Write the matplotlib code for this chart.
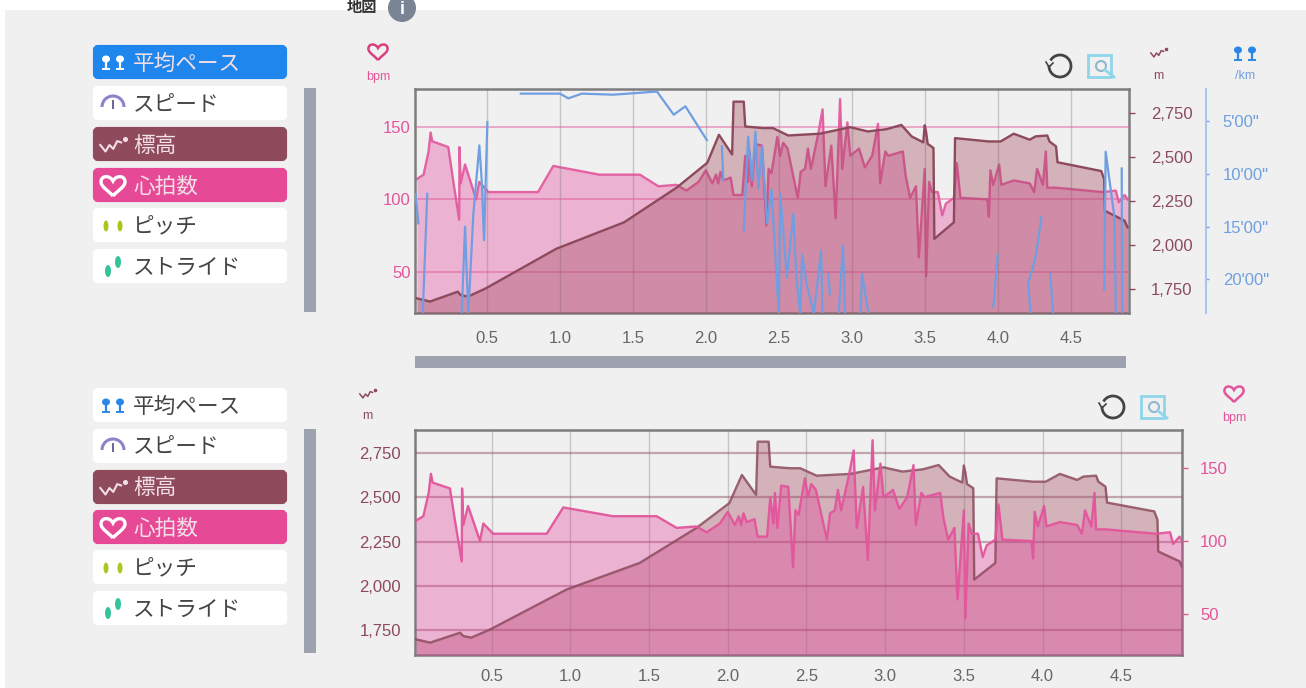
import numpy as np
import matplotlib
matplotlib.use("Agg")
import matplotlib.pyplot as plt
import matplotlib.patches as patches
from matplotlib.path import Path

plt.rcParams['font.family'] = ['Liberation Sans', 'Noto Sans CJK JP', 'DejaVu Sans']

W, H = 1306, 688

# elevation
elev_km = [0.02, 0.11, 0.30, 0.32, 0.37, 0.49, 0.976, 1.44, 1.80, 2.01, 2.09, 2.18, 2.19, 2.26, 2.27, 2.395,
           2.46, 2.565, 2.78, 2.99, 3.11, 3.24, 3.34, 3.41, 3.49, 3.50, 3.51, 3.52, 3.56, 3.566, 3.70, 3.708,
           3.94, 4.02, 4.11, 4.22, 4.26, 4.34, 4.355, 4.40, 4.41, 4.71, 4.73, 4.735, 4.87, 4.89]
elev_m = [1697, 1679, 1735, 1716, 1707, 1753, 1979, 2129, 2326, 2467, 2626, 2514, 2814, 2814, 2673, 2664,
          2664, 2622, 2632, 2669, 2645, 2658, 2682, 2617, 2583, 2680, 2640, 2575, 2551, 2035, 2129, 2607,
          2588, 2588, 2632, 2598, 2617, 2622, 2588, 2560, 2470, 2420, 2373, 2194, 2138, 2100]

# heart rate
hr_km = [0.02, 0.066, 0.10, 0.114, 0.125, 0.235, 0.267, 0.31, 0.312, 0.32, 0.35, 0.426, 0.447, 0.51, 0.85, 0.955,
         1.27, 1.548, 1.675, 1.80, 1.866, 1.95, 2.0, 2.045, 2.07, 2.085, 2.1, 2.12, 2.17, 2.19, 2.25, 2.27,
         2.29, 2.30, 2.315, 2.34, 2.385, 2.415, 2.43, 2.45, 2.49, 2.51, 2.53, 2.56, 2.63, 2.65, 2.68, 2.70,
         2.72, 2.77, 2.80, 2.82, 2.86, 2.89, 2.92, 2.935, 2.97, 2.99, 3.05, 3.09, 3.14, 3.18, 3.195, 3.23,
         3.25, 3.35, 3.37, 3.40, 3.44, 3.46, 3.50, 3.51, 3.53, 3.55, 3.56, 3.59, 3.62, 3.645, 3.70, 3.72,
         3.745, 3.93, 3.94, 3.95, 3.97, 4.01, 4.025, 4.11, 4.22, 4.25, 4.27, 4.31, 4.33, 4.34, 4.40, 4.72,
         4.81, 4.83, 4.87, 4.89]
hr_bpm = [114, 117, 133, 146, 140, 136, 114, 86, 136, 111, 124, 100, 112, 105, 105, 123,
          117, 117, 109, 110, 106, 112, 120, 111, 117, 111, 119, 113, 115, 103, 103, 130,
          112, 133, 109, 138, 137, 82, 121, 118, 143, 130, 139, 135, 101, 119, 121, 135,
          121, 145, 162, 109, 137, 87, 169, 121, 153, 130, 135, 122, 130, 152, 111, 133,
          130, 133, 116, 101, 109, 60, 121, 47, 112, 105, 105, 105, 89, 97, 101, 125,
          101, 100, 88, 120, 110, 124, 110, 113, 111, 105, 121, 110, 133, 108, 108, 105,
          106, 98, 103, 100]

# average pace in minutes per km, nan where the line breaks
pace_km = [0.011, 0.03, np.nan, 0.06, 0.091, np.nan, 0.327, 0.35, 0.372, 0.407, 0.448, 0.464, 0.48, 0.503, np.nan,
           0.732, 1.0, 1.058, 1.15, 1.367, 1.665, 1.78, 1.86, 2.007, np.nan, 2.11, 2.12, np.nan,
           2.26, 2.29, 2.316, 2.34, 2.36, 2.385, 2.42, 2.45, 2.5, 2.51, 2.53, 2.555, 2.6, 2.62, 2.647, 2.66, 2.69,
           2.74, 2.79, 2.80, np.nan, 2.84, 2.85, np.nan, 2.91, 2.94, 2.955, np.nan, 3.06, 3.07, 3.116, np.nan,
           3.97, 4.0, np.nan, 4.225, 4.21, 4.26, 4.3, np.nan, 4.36, 4.38, np.nan,
           4.73, 4.74, 4.80, 4.81, np.nan, 4.85, 4.853]
pace_min = [11.9, 14.7, np.nan, 23.3, 11.9, np.nan, 23.3, 15, 23.3, 13.8, 7.3, 10.6, 16.3, 5.1, np.nan,
            2.4, 2.4, 2.85, 2.4, 2.5, 2.2, 4.4, 3.6, 6.8, np.nan, 7.4, 10.6, np.nan,
            15.35, 6.5, 10.6, 6, 11.4, 7.4, 14.7, 11.5, 23.3, 11.9, 15.35, 19.8, 13.8, 19.8, 23.3, 17.6, 20.4,
            23.3, 17.3, 23.3, np.nan, 19.5, 21.4, np.nan, 23.3, 16.8, 23.3, np.nan, 23.3, 19.5, 23.3, np.nan,
            22.6, 17.7, np.nan, 23.3, 20.4, 17.9, 14.1, np.nan, 19.5, 23.3, np.nan,
            21.0, 7.9, 14.1, 23.3, np.nan, 9.5, 23.3]

km_ticks = [0.5, 1.0, 1.5, 2.0, 2.5, 3.0, 3.5, 4.0, 4.5]
hr_ticks = [50, 100, 150]
elev_ticks = [1750, 2000, 2250, 2500, 2750]
pace_ticks = [5, 10, 15, 20]
pace_labels = ["5'00\"", "10'00\"", "15'00\"", "20'00\""]
menu_labels = ["平均ペース", "スピード", "標高", "心拍数", "ピッチ", "ストライド"]

BG = "#f0f0f0"
PINK = "#e2559b"
BROWN = "#8c4a5c"
BLUE = "#6f9fe0"
FRAME = "#7d7d7d"
HR_FILL = "#e53b99"
ELEV_FILL = "#a0465c"

fig = plt.figure(figsize=(W / 100, H / 100), dpi=100, facecolor="white")

# page layer in pixel coordinates
page = fig.add_axes([0, 0, 1, 1], zorder=0)
page.set_xlim(0, W)
page.set_ylim(H, 0)
page.axis("off")
page.add_patch(patches.Rectangle((5, 10), W - 5, H - 10, color=BG, lw=0))


def chart_axes(left, top, right, bottom):
    return fig.add_axes([left / W, 1 - bottom / H, (right - left) / W, (bottom - top) / H], zorder=1)


def heart(x, y, s, c, lw=2.2):
    verts = [(0, 1), (-0.4, 0.5), (-1.2, 0.1), (-1.2, -0.4), (-1.2, -1.1), (-0.3, -1.1), (0, -0.5),
             (0.3, -1.1), (1.2, -1.1), (1.2, -0.4), (1.2, 0.1), (0.4, 0.5), (0, 1)]
    pts = [(x + s * a, y + s * b) for a, b in verts]
    codes = [Path.MOVETO] + [Path.CURVE4] * 12
    page.add_patch(patches.PathPatch(Path(pts, codes), fc="none", ec=c, lw=lw))


def feet(x, y, c, kind="pace"):
    for dx in (0, 14):
        if kind == "pace":
            page.add_patch(patches.Ellipse((x + dx, y - 3), 8, 7, color=c, lw=0))
            page.plot([x + dx, x + dx], [y - 3, y + 6], color=c, lw=1.6)
            page.plot([x + dx - 3, x + dx + 3], [y + 7, y + 7], color=c, lw=1.4)
        else:
            page.add_patch(patches.Ellipse((x + dx, y), 5, 11, color=c, lw=0))


def zigzag(x, y, c, s=1.0, lw=1.3):
    page.plot(x + s * np.array([-9, -5, -2, 1, 4, 7]), y + s * np.array([0, 5, 0, 3, -3, -2]), color=c, lw=lw)
    page.plot([x + s * 10], [y - s * 5], "o", color=c, ms=2 * s)


def menu(top_ys, active):
    for i, (label, y0) in enumerate(zip(menu_labels, top_ys)):
        fc = active.get(i, "white")
        page.add_patch(patches.FancyBboxPatch((95, y0 + 2), 190, 30, boxstyle="round,pad=0,rounding_size=3",
                                              fc=fc, ec=fc, lw=3))
        tc = "#f3dfe6" if i in active else "#444444"
        yc = y0 + 17
        page.text(133, yc + 2, label, fontsize=15.6, color=tc, va="center", ha="left")
        if i == 0:
            feet(106, yc, "white" if i in active else "#2d86e6")
        elif i == 1:
            page.add_patch(patches.Arc((113, yc + 4), 22, 22, theta1=180, theta2=360, color="#8d83c8", lw=2.2))
            page.plot([113, 113], [yc + 5, yc - 2], color="#666699", lw=1.4)
        elif i == 2:
            zigzag(112, yc + 1, "#f3dfe6" if i in active else BROWN, 1.3, 1.5)
        elif i == 3:
            heart(113, yc + 1, 10, "white", 2.4)
        elif i == 4:
            feet(106, yc + 1, "#a8c820", "pitch")
        elif i == 5:
            page.add_patch(patches.Ellipse((108, yc + 5), 6, 12, color="#35c49a", lw=0))
            page.add_patch(patches.Ellipse((118, yc - 4), 6, 12, color="#35c49a", lw=0))


def tools(x, y):
    page.add_patch(patches.Arc((x, y), 22, 22, theta1=-150, theta2=185, color="#444444", lw=2))
    page.plot([x - 14, x - 11, x - 7], [y - 4, y + 1, y - 3], color="#444444", lw=1.2)
    page.add_patch(patches.Rectangle((x + 28, y - 11), 23, 22, fc="none", ec="#8fd6ea", lw=2))
    page.add_patch(patches.Circle((x + 41, y), 5, fc="none", ec="#8fb8d0", lw=1.5))
    page.plot([x + 45, x + 54], [y + 4, y + 11], color="#8fd6ea", lw=2)


def style(ax, c, side):
    ax.tick_params(axis="y", colors=c, labelsize=12, length=4, width=1, pad=12)
    ax.yaxis.set_ticks_position(side)
    ax.yaxis.set_label_position(side)


def draw_x(ax, xlim, pad):
    ax.set_xlim(*xlim)
    ax.set_xticks(km_ticks)
    ax.set_xticklabels(["%.1f" % k for k in km_ticks])
    ax.tick_params(axis="x", colors="#666666", labelsize=12, length=0, pad=pad)
    ax.grid(axis="x", color="#777777", alpha=0.35, lw=1)
    for s in ax.spines.values():
        s.set_color(FRAME)
        s.set_linewidth(1.8)


# upper chart: heart rate on the left, elevation and pace on the right
ax1 = chart_axes(415, 89, 1129, 313)
ax1.set_facecolor(BG)
ax1.set_axisbelow(False)
draw_x(ax1, (0.007, 4.90), 13)
ax1.set_ylim(21.7, 176)
ax1.set_yticks(hr_ticks)
style(ax1, PINK, "left")
ax1.tick_params(axis="y", length=0, pad=3)
ax1.fill_between(hr_km, hr_bpm, 0, color=HR_FILL, alpha=0.34, lw=0)
ax1.plot(hr_km, hr_bpm, color=PINK, lw=1.7, alpha=0.9)
ax1.grid(axis="y", color=PINK, alpha=0.55, lw=1.2)

ax1e = ax1.twinx()
ax1e.set_ylim(1614, 2886)
ax1e.set_yticks(elev_ticks)
ax1e.set_yticklabels(["{:,}".format(v) for v in elev_ticks])
style(ax1e, BROWN, "right")
ax1e.fill_between(elev_km, elev_m, 0, color=ELEV_FILL, alpha=0.36, lw=0)
ax1e.plot(elev_km, elev_m, color=BROWN, lw=1.7)
ax1e.spines[:].set_visible(False)

ax1p = ax1.twinx()
ax1p.set_ylim(23.2, 1.96)
ax1p.set_yticks(pace_ticks)
ax1p.set_yticklabels(pace_labels)
ax1p.plot(pace_km, pace_min, color=BLUE, lw=1.6)
ax1p.spines[:].set_visible(False)
ax1p.spines["right"].set_visible(True)
ax1p.spines["right"].set_position(("outward", 77 * 0.72))
ax1p.spines["right"].set_color("#a9c6ef")
ax1p.spines["right"].set_linewidth(1.5)
style(ax1p, BLUE, "right")
ax1p.tick_params(axis="y", length=2, pad=10)

# lower chart: elevation on the left, heart rate on the right
ax2 = chart_axes(415, 430, 1182, 655)
ax2.set_facecolor(BG)
ax2.set_axisbelow(False)
draw_x(ax2, (0.013, 4.886), 10)
ax2.set_ylim(1609, 2880)
ax2.set_yticks(elev_ticks)
ax2.set_yticklabels(["{:,}".format(v) for v in elev_ticks])
style(ax2, BROWN, "left")
ax2.tick_params(axis="y", length=0, pad=10)
ax2.fill_between(elev_km, elev_m, 0, color=ELEV_FILL, alpha=0.36, lw=0)
ax2.grid(axis="y", color=BROWN, alpha=0.45, lw=1.6)

ax2h = ax2.twinx()
ax2h.set_ylim(22, 176)
ax2h.set_yticks(hr_ticks)
style(ax2h, PINK, "right")
ax2h.tick_params(axis="y", pad=9)
ax2h.fill_between(hr_km, hr_bpm, 0, color=HR_FILL, alpha=0.34, lw=0)
ax2h.plot(elev_km, elev_m, color=BROWN, lw=1.7, alpha=0.85, transform=ax2.transData)
ax2h.plot(hr_km, hr_bpm, color=PINK, lw=1.7, alpha=0.95)
ax2h.set_ylim(22, 176)
ax2h.spines[:].set_visible(False)

# page furniture
menu([45, 86, 127, 168, 208, 249], {0: "#1f86ee", 2: "#8f4a5c", 3: "#e64a97"})
menu([388, 429, 470, 510, 550, 591], {2: "#8f4a5c", 3: "#e64a97"})
page.add_patch(patches.Rectangle((304, 88), 12, 224, color="#9da2ae", lw=0))
page.add_patch(patches.Rectangle((304, 429), 12, 224, color="#9da2ae", lw=0))
page.add_patch(patches.Rectangle((415, 356), 711, 12, color="#9da2ae", lw=0))

tools(1060, 66)
tools(1113, 407)

heart(378, 52, 8, "#d8407f", 1.8)
page.text(378, 77, "bpm", fontsize=9, color=PINK, ha="center", va="center")
zigzag(1158, 53, BROWN, 0.8, 1.1)
page.text(1158, 76, "m", fontsize=9, color=BROWN, ha="center", va="center")
feet(1238, 53, "#2d86e6")
page.text(1245, 76, "/km", fontsize=9, color=BLUE, ha="center", va="center")

zigzag(367, 394, BROWN, 0.8, 1.1)
page.text(367, 416, "m", fontsize=9, color=BROWN, ha="center", va="center")
heart(1234, 394, 8, PINK, 1.8)
page.text(1234, 418, "bpm", fontsize=9, color=PINK, ha="center", va="center")

# heading at the top of the screenshot
page.text(362, 8, "地図", fontsize=11, color="#333333", ha="center", va="center", fontweight="bold")
page.add_patch(patches.Circle((402, 8), 14, color="#7b8494", lw=0))
page.text(402, 10, "i", fontsize=13, color="white", ha="center", va="center", fontweight="bold")

fig.savefig("out.png", dpi=100, facecolor=fig.get_facecolor())
